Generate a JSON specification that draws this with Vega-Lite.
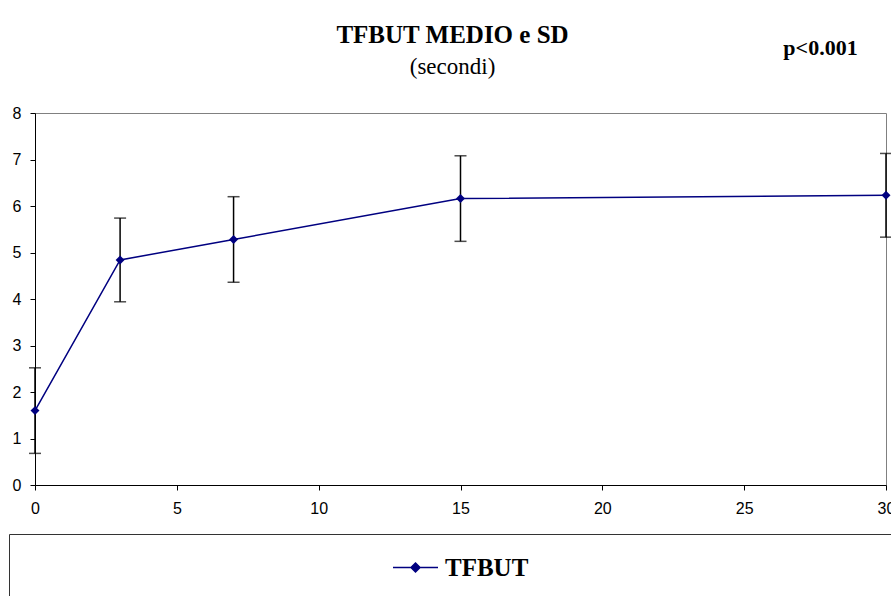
{
  "$schema": "https://vega.github.io/schema/vega-lite/v6.json",
  "width": 851,
  "height": 372,
  "autosize": {"type": "none"},
  "padding": {"left": 35, "top": 113, "right": 5, "bottom": 111},
  "background": "white",
  "title": {
    "text": "TFBUT MEDIO e SD",
    "subtitle": "(secondi)",
    "anchor": "middle",
    "font": "Liberation Serif",
    "fontSize": 25,
    "fontWeight": "bold",
    "color": "black",
    "subtitleFont": "Liberation Serif",
    "subtitleFontSize": 23,
    "subtitleColor": "black",
    "subtitlePadding": 8,
    "offset": -43,
    "dx": -8
  },
  "data": {
    "values": [
      {"day": 0, "mean": 1.6, "sd": 0.92},
      {"day": 3, "mean": 4.84, "sd": 0.9},
      {"day": 7, "mean": 5.28, "sd": 0.92},
      {"day": 15, "mean": 6.16, "sd": 0.92},
      {"day": 30, "mean": 6.23, "sd": 0.9}
    ]
  },
  "encoding": {
    "x": {
      "field": "day",
      "type": "quantitative",
      "scale": {"domain": [0, 30], "nice": false, "zero": false},
      "axis": {
        "values": [0, 5, 10, 15, 20, 25, 30],
        "grid": false,
        "domainColor": "black",
        "domainWidth": 1,
        "tickColor": "black",
        "tickSize": 5,
        "labelFont": "Liberation Sans",
        "labelFontSize": 16,
        "labelColor": "black",
        "labelPadding": 10,
        "labelFlush": false,
        "title": "p<0.001",
        "titleFont": "Liberation Serif",
        "titleFontSize": 22,
        "titleFontWeight": "bold",
        "titleColor": "black",
        "titleAlign": "center",
        "titleBaseline": "middle",
        "titleAnchor": null,
        "titleX": 785,
        "titleY": -438
      }
    }
  },
  "layer": [
    {
      "mark": {
        "type": "errorbar",
        "ticks": {"size": 12, "color": "black", "thickness": 1.5},
        "rule": {"color": "black", "strokeWidth": 1.5}
      },
      "encoding": {
        "y": {"field": "mean", "type": "quantitative"},
        "yError": {"field": "sd"}
      }
    },
    {
      "mark": {"type": "line", "strokeWidth": 1.5},
      "encoding": {
        "y": {
          "field": "mean",
          "type": "quantitative",
          "scale": {"domain": [0, 8], "nice": false},
          "axis": {
            "values": [0, 1, 2, 3, 4, 5, 6, 7, 8],
            "grid": false,
            "domainColor": "black",
            "domainWidth": 1,
            "tickColor": "black",
            "tickSize": 5,
            "labelFont": "Liberation Sans",
            "labelFontSize": 16,
            "labelColor": "black",
            "labelPadding": 9,
            "labelFlush": false,
            "title": null
          }
        },
        "color": {
          "datum": "TFBUT",
          "type": "nominal",
          "scale": {"range": ["#000080"]},
          "legend": {
            "orient": "none",
            "legendX": -26,
            "legendY": 421,
            "title": " ",
            "titleOrient": "right",
            "titleFontSize": 80,
            "titlePadding": 480,
            "padding": 10,
            "strokeColor": "#333333",
            "symbolOffset": 373,
            "symbolType": "M-1,0H1M0,-0.2L0.2,0L0,0.2L-0.2,0Z",
            "symbolSize": 2025,
            "symbolStrokeWidth": 1.5,
            "symbolFillColor": "#000080",
            "symbolStrokeColor": "#000080",
            "labelFont": "Liberation Serif",
            "labelFontSize": 25,
            "labelFontWeight": "bold",
            "labelColor": "black",
            "labelOffset": 6
          }
        }
      }
    },
    {
      "mark": {"type": "point", "shape": "diamond", "filled": true, "size": 80, "opacity": 1},
      "encoding": {
        "y": {"field": "mean", "type": "quantitative"},
        "color": {"datum": "TFBUT", "type": "nominal"}
      }
    }
  ],
  "config": {
    "view": {"stroke": "#808080", "strokeWidth": 1}
  }
}
